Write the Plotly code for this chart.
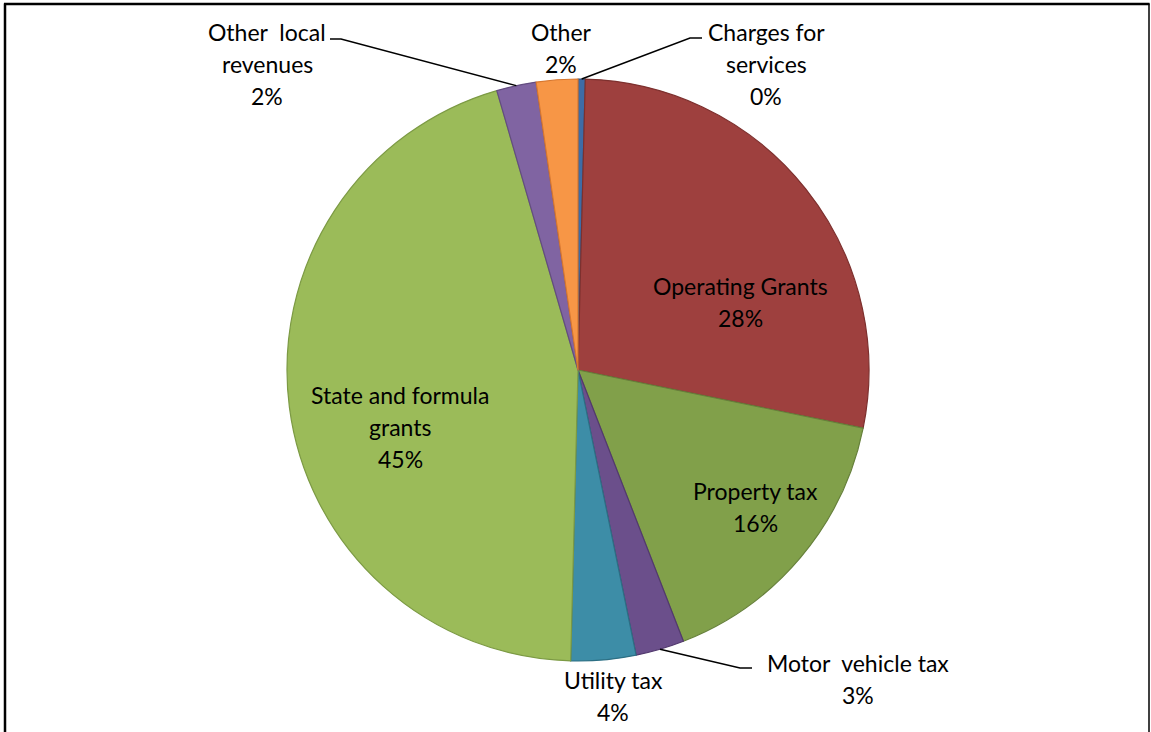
import math
import plotly.graph_objects as go

# ---- data ----
categories = ["Charges for services", "Operating Grants", "Property tax",
              "Motor vehicle tax", "Utility tax", "State and formula grants",
              "Other local revenues", "Other"]
label_lines = ["Charges for<br>services", "Operating Grants", "Property tax",
               "Motor  vehicle tax", "Utility tax", "State and formula<br>grants",
               "Other  local<br>revenues", "Other"]
values = [0.4, 27.8, 15.9, 2.7, 3.6, 45.1, 2.2, 2.3]

colors = ["#3E6CA6", "#9E403E", "#81A04A", "#6B4F8B", "#3D8DA7", "#9BBB59", "#8064A2", "#F79646"]
edge_colors = ["#2F5482", "#7D302E", "#66803A", "#52396E", "#2C6F84", "#7C9A44", "#634C80", "#D7772F"]

W, H = 1151, 732
CX, CY, R = 578, 370, 291

def px(x):
    return x / W

def py(y):
    return 1 - y / H

fig = go.Figure(go.Pie(
    labels=categories, values=values, sort=False, direction="clockwise", rotation=0,
    marker=dict(colors=colors, line=dict(color=edge_colors, width=1.2)),
    textinfo="none", hoverinfo="label+percent", showlegend=False,
    domain=dict(x=[px(CX - R), px(CX + R)], y=[py(CY + R), py(CY - R)]),
))

total = sum(values)
pcts = [round(v / total * 100) for v in values]

# label centre positions (pixel) — layout only
label_pos = {
    0: (766, 64), 1: (740, 302), 2: (755, 507), 3: (858, 679),
    4: (613, 696), 5: (400, 427), 6: (267, 64), 7: (561, 48),
}
LINE_H = 32
FONT = dict(family="Lato, Carlito, sans-serif", size=23, color="#000000")
annotations = []
for i, (cx, cy) in label_pos.items():
    lines = label_lines[i].split("<br>") + [f"{pcts[i]}%"]
    n = len(lines)
    for k, line in enumerate(lines):
        yy = cy + (k - (n - 1) / 2) * LINE_H
        annotations.append(dict(x=px(cx), y=py(yy), xref="paper", yref="paper",
                                text=line, showarrow=False, font=FONT,
                                xanchor="center", yanchor="middle"))

# leader lines from slice mid-angle on the rim
cum = []
c = 0
for v in values:
    cum.append(c + v / 2)
    c += v

def rim(i):
    a = math.radians(cum[i] / total * 360)
    return CX + R * math.sin(a), CY - R * math.cos(a)

leaders = {6: [(330, 39), (341, 39)], 0: [(702, 38), (690, 38)], 3: [(752, 668), (740, 668)]}
shapes = []
for i, pts in leaders.items():
    rx, ry = rim(i)
    allp = pts + [(rx, ry)]
    path = "M " + " L ".join(f"{px(x)},{py(y)}" for x, y in allp)
    shapes.append(dict(type="path", path=path, xref="paper", yref="paper",
                       line=dict(color="#000000", width=1.5)))

# outer frame
shapes += [
    dict(type="line", xref="paper", yref="paper", x0=px(5), x1=px(5), y0=py(3.5), y1=-0.05,
         line=dict(color="#000000", width=2.5)),
    dict(type="line", xref="paper", yref="paper", x0=px(4), x1=px(1149.5), y0=py(4), y1=py(4),
         line=dict(color="#000000", width=2.5)),
    dict(type="line", xref="paper", yref="paper", x0=px(1149), x1=px(1149), y0=py(3.5), y1=-0.05,
         line=dict(color="#000000", width=1.5)),
]

fig.update_layout(
    width=W, height=H, margin=dict(l=0, r=0, t=0, b=0),
    paper_bgcolor="#FFFFFF", plot_bgcolor="#FFFFFF",
    annotations=annotations, shapes=shapes,
)

fig.write_html("out.html", config={"displayModeBar": False},
               post_script="document.body.style.margin='0';document.body.style.overflow='hidden';")
